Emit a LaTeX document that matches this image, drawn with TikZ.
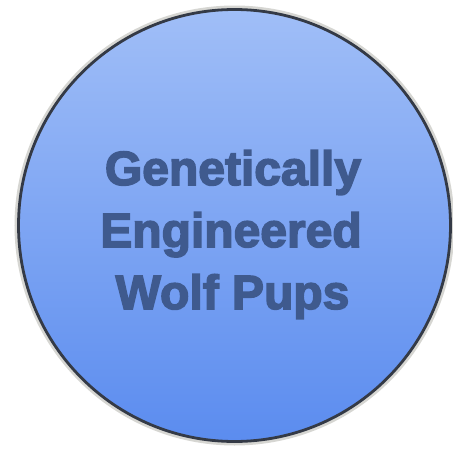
\documentclass[tikz,border=0pt]{standalone}
\usepackage{fontspec}
\setmainfont{Liberation Sans}
\definecolor{topblue}{HTML}{A0BEF7}
\definecolor{botblue}{HTML}{5B8CEF}
\definecolor{txtblue}{HTML}{3F5A8E}
\definecolor{rimgrey}{HTML}{D6D6D2}
\definecolor{edge}{HTML}{343A46}
\newcommand{\heavy}[1]{\special{pdf:literal 2 Tr 1.5 w}#1\special{pdf:literal 0 Tr}}
\tikzset{
  label/.style={font=\fontsize{48}{60}\selectfont\bfseries, text=txtblue, anchor=base, inner sep=0pt},
}
\begin{document}
\begin{tikzpicture}[x=1pt,y=-1pt]
\useasboundingbox (0,0) rectangle (453,450);
\fill[white] (0,0) rectangle (453,450);
\draw[rimgrey, line width=8pt] (234.5,225.5) circle [radius=216];
\shade[top color=topblue, bottom color=botblue, draw=edge, line width=2.8pt] (234.5,225.5) circle [radius=216];
\node[label] (l1) at (233,185) {\heavy{Genetically}};
\node[label] (l2) at (231,247) {\heavy{Engineered}};
\node[label] (l3) at (232.5,309) {\heavy{Wolf Pups}};
\end{tikzpicture}
\end{document}
